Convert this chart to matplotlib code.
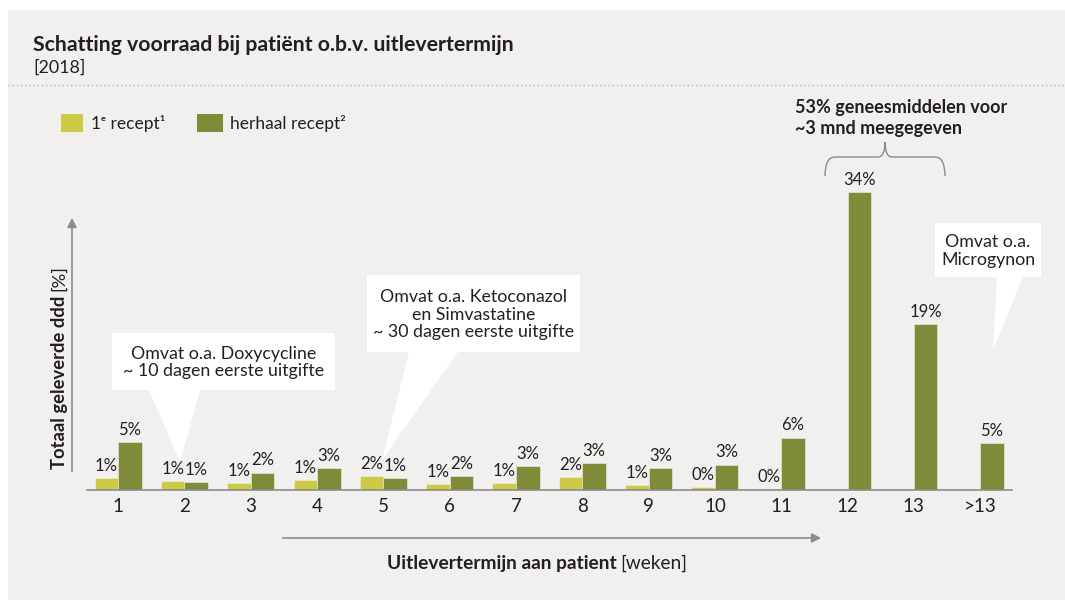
import numpy as np
import matplotlib
matplotlib.use("Agg")
import matplotlib.pyplot as plt
from matplotlib.patches import Rectangle, Polygon, PathPatch
from matplotlib.path import Path

plt.rcParams['font.family'] = ['Lato', 'DejaVu Sans']

# data
weeks = ['1', '2', '3', '4', '5', '6', '7', '8', '9', '10', '11', '12', '13', '>13']
eerste = [1.4, 1.0, 0.8, 1.1, 1.6, 0.7, 0.8, 1.5, 0.6, 0.3, 0.1, 0.05, 0.05, 0.0]
herhaal = [5.5, 0.9, 2.0, 2.5, 1.4, 1.6, 2.75, 3.05, 2.5, 2.9, 6.0, 34.0, 19.0, 5.4]
eerste_lbl = ['1%', '1%', '1%', '1%', '2%', '1%', '1%', '2%', '1%', '0%', '0%', '', '', '']
herhaal_lbl = ['5%', '1%', '2%', '3%', '1%', '2%', '3%', '3%', '3%', '3%', '6%', '34%', '19%', '5%']

W, H = 1065, 603
C_FIRST = '#cdcb46'
C_REP = '#7f8b38'
C_TXT = '#231f20'
C_GREY = '#8c8c8c'
BG = '#f1f0ee'

fig = plt.figure(figsize=(W / 100, H / 100), dpi=100, facecolor='white')

# background panel (pixel coords)
bg = fig.add_axes([0, 0, 1, 1], zorder=0)
bg.set_xlim(0, W)
bg.set_ylim(H, 0)
bg.axis('off')
bg.add_patch(Rectangle((8, 10), W - 8, 590, color=BG, lw=0))
bg.plot([8, W], [85, 85], ls=(0, (1, 2)), color='#b5b5b5', lw=1)

# main bar axes: baseline at y=490px, 40% at y=140px
ax = fig.add_axes([87 / W, 1 - 490 / H, (1012 - 87) / W, 350 / H], zorder=1)
ax.patch.set_alpha(0)
x = np.arange(len(weeks))
bw = 0.355
b1 = ax.bar(x - bw / 2, eerste, bw, color=C_FIRST, edgecolor=BG, lw=0.4)
b2 = ax.bar(x + bw / 2, herhaal, bw, color=C_REP, edgecolor=BG, lw=0.4)
for bars, labels in ((b1, eerste_lbl), (b2, herhaal_lbl)):
    for r, lab in zip(bars, labels):
        if lab:
            ax.annotate(lab, (r.get_x() + r.get_width() / 2, r.get_height()),
                        xytext=(0, 3), textcoords='offset points',
                        ha='center', va='bottom', fontsize=12, color=C_TXT)
ax.set_xlim(-0.47, len(weeks) - 0.52)
ax.set_ylim(0, 40)
ax.set_xticks(x)
ax.set_xticklabels(weeks, fontsize=13.5, color=C_TXT)
ax.tick_params(axis='x', length=0, pad=6)
ax.set_yticks([])
for s in ('top', 'right', 'left'):
    ax.spines[s].set_visible(False)
ax.spines['bottom'].set_color(C_GREY)
ax.spines['bottom'].set_linewidth(1.2)

# overlay for annotations (pixel coords)
ov = fig.add_axes([0, 0, 1, 1], zorder=2)
ov.set_xlim(0, W)
ov.set_ylim(H, 0)
ov.axis('off')
ov.patch.set_alpha(0)

ov.text(33, 45, 'Schatting voorraad bij patiënt o.b.v. uitlevertermijn',
        fontsize=15.3, fontweight='bold', color=C_TXT, va='center')
ov.text(33, 68, '[2018]', fontsize=12.8, color=C_TXT, va='center')

# legend
ov.add_patch(Rectangle((61, 114), 22, 18, color=C_FIRST, lw=0))
ov.text(91, 123, '1ᵉ recept¹', fontsize=12.5, color=C_TXT, va='center')
ov.add_patch(Rectangle((197, 114), 26, 18, color=C_REP, lw=0))
ov.text(230, 123, 'herhaal recept²', fontsize=12.5, color=C_TXT, va='center')

renderer = fig.canvas.get_renderer()


def mixed(xc, yc, parts, size, rotation=0, gap=4):
    texts = []
    for s, wt in parts:
        t = ov.text(0, 0, s, fontsize=size, fontweight=wt, color=C_TXT,
                    rotation=rotation)
        texts.append(t)
    sizes = []
    for t in texts:
        bb = t.get_window_extent(renderer)
        sizes.append(bb.height if rotation else bb.width)
    total = sum(sizes) + gap * (len(texts) - 1)
    if rotation:
        pos = yc + total / 2
        for t, sz in zip(texts, sizes):
            t.set_position((xc, pos))
            t.set_ha('center')
            t.set_va('bottom')
            pos -= sz + gap
    else:
        pos = xc - total / 2
        for t, sz in zip(texts, sizes):
            t.set_position((pos, yc))
            t.set_ha('left')
            t.set_va('center')
            pos += sz + gap


mixed(537, 563, [('Uitlevertermijn aan patient', 'bold'), ('[weken]', 'normal')], 13.8)
mixed(59, 367, [('Totaal geleverde ddd', 'bold'), ('[%]', 'normal')], 13.2, rotation=90)

# axis arrows
ov.annotate('', xy=(72, 215), xytext=(72, 474),
            arrowprops=dict(arrowstyle='-|>', color=C_GREY, lw=1.2, mutation_scale=14))
ov.annotate('', xy=(824, 538), xytext=(280, 538),
            arrowprops=dict(arrowstyle='-|>', color=C_GREY, lw=1.2, mutation_scale=14))

# callouts
callouts = [
    ((112, 333, 335, 390), (149, 200, 180, 462),
     'Omvat o.a. Doxycycline\n~ 10 dagen eerste uitgifte'),
    ((367, 275, 580, 352), (409, 458, 382, 460),
     'Omvat o.a. Ketoconazol\nen Simvastatine\n~ 30 dagen eerste uitgifte'),
    ((935, 223, 1041, 277), (997, 1023, 993, 350),
     'Omvat o.a.\nMicrogynon'),
]
for (x0, y0, x1, y1), (t0, t1, tx, ty), txt in callouts:
    poly = [(x0, y0), (x1, y0), (x1, y1), (t1, y1), (tx, ty), (t0, y1), (x0, y1)]
    ov.add_patch(Polygon(poly, closed=True, color='white', lw=0))
    ov.text((x0 + x1) / 2, (y0 + y1) / 2 + 1, txt, fontsize=12.8, color=C_TXT,
            ha='center', va='center', multialignment='center', linespacing=1.12)

# brace over weeks 12-13
verts = [(825, 176), (825, 157), (835, 157), (878, 157), (885, 157), (885, 142),
         (885, 157), (892, 157), (935, 157), (945, 157), (945, 176)]
codes = [Path.MOVETO, Path.CURVE3, Path.CURVE3, Path.LINETO, Path.CURVE3, Path.CURVE3,
         Path.CURVE3, Path.CURVE3, Path.LINETO, Path.CURVE3, Path.CURVE3]
ov.add_patch(PathPatch(Path(verts, codes), fill=False, edgecolor=C_GREY, lw=1))
ov.text(795, 118, '53% geneesmiddelen voor\n~3 mnd meegegeven', fontsize=13,
        fontweight='bold', color=C_TXT, ha='left', va='center',
        multialignment='left', linespacing=1.25)

fig.savefig('out.png', dpi=100, facecolor='white')
